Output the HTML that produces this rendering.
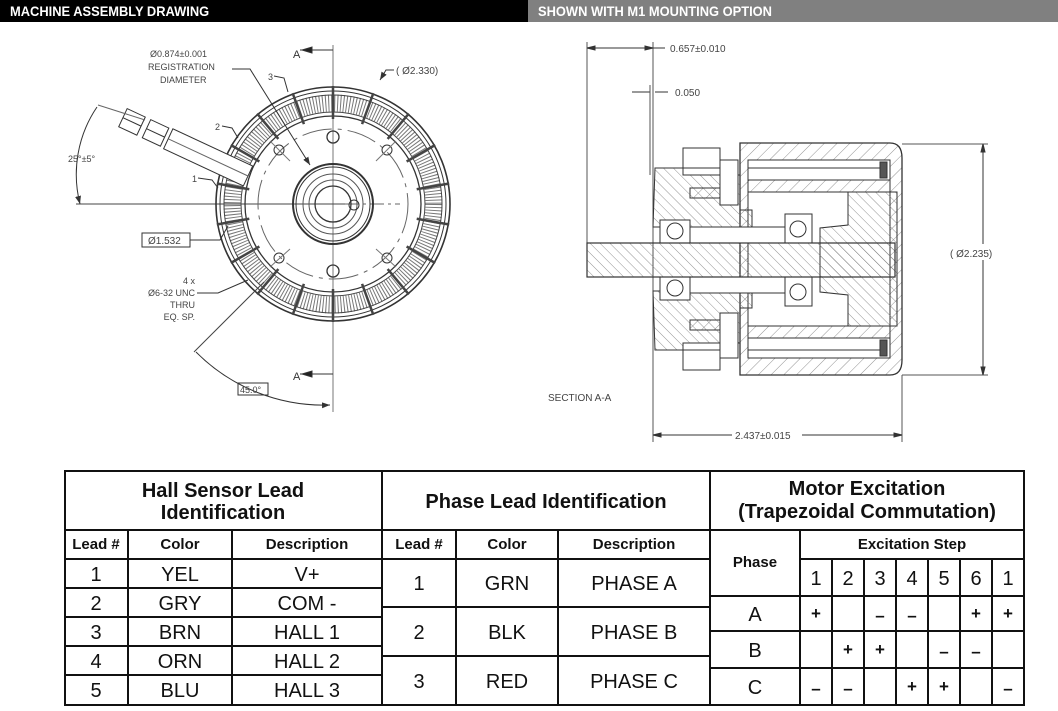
<!DOCTYPE html>
<html><head><meta charset="utf-8"><style>
body{margin:0;width:1058px;height:711px;background:#fff;overflow:hidden;position:relative;font-family:"Liberation Sans",Arial,sans-serif}
.bar{position:absolute;top:0;height:22px;color:#fff;font-weight:bold;font-size:14px;line-height:23px;padding-left:10px;box-sizing:border-box}
svg{position:absolute;left:0;top:0}
</style></head><body>
<div class="bar" style="left:0;width:528px;background:#000"><span style="display:inline-block;transform:scaleX(0.92);transform-origin:left">MACHINE ASSEMBLY DRAWING</span></div>
<div class="bar" style="left:528px;width:530px;background:#808080"><span style="display:inline-block;transform:scaleX(0.92);transform-origin:left">SHOWN WITH M1 MOUNTING OPTION</span></div>

<svg width="1058" height="711" viewBox="0 0 1058 711">
<defs>
<pattern id="h" width="9" height="9" patternUnits="userSpaceOnUse" patternTransform="rotate(45)"><line x1="0" y1="0" x2="0" y2="9" stroke="#777" stroke-width="0.8"/></pattern>
<pattern id="h2" width="7" height="7" patternUnits="userSpaceOnUse" patternTransform="rotate(-45)"><line x1="0" y1="0" x2="0" y2="7" stroke="#777" stroke-width="0.8"/></pattern>
<marker id="ar" markerWidth="8" markerHeight="6" refX="8" refY="3" orient="auto"><path d="M0,0 L8,3 L0,6z" fill="#333"/></marker>
</defs>
<g fill="none" stroke="#333" stroke-width="1" font-family="Liberation Sans, sans-serif">
<!-- LEFT VIEW -->
<line x1="333" y1="45" x2="333" y2="412" stroke="#555" stroke-width="0.8"/>
<line x1="76" y1="204" x2="345" y2="204" stroke="#444"/>
<line x1="345" y1="204" x2="400" y2="204" stroke="#666" stroke-dasharray="14 4 3 4"/>
<circle cx="333" cy="204" r="117" stroke-width="1.6"/>
<circle cx="333" cy="204" r="113"/>
<circle cx="333" cy="204" r="101" stroke="#777" stroke-width="17" stroke-dasharray="1 2"/>
<circle cx="333" cy="204" r="109" stroke="#444"/>
<circle cx="333" cy="204" r="92" stroke="#444"/>
<circle cx="333" cy="204" r="88" stroke-width="1.3"/>
<g stroke="#444" stroke-width="2.5">
<line x1="333" y1="86" x2="333" y2="119" transform="rotate(0 333 204)"/>
<line x1="333" y1="86" x2="333" y2="119" transform="rotate(20 333 204)"/>
<line x1="333" y1="86" x2="333" y2="119" transform="rotate(40 333 204)"/>
<line x1="333" y1="86" x2="333" y2="119" transform="rotate(60 333 204)"/>
<line x1="333" y1="86" x2="333" y2="119" transform="rotate(80 333 204)"/>
<line x1="333" y1="86" x2="333" y2="119" transform="rotate(100 333 204)"/>
<line x1="333" y1="86" x2="333" y2="119" transform="rotate(120 333 204)"/>
<line x1="333" y1="86" x2="333" y2="119" transform="rotate(140 333 204)"/>
<line x1="333" y1="86" x2="333" y2="119" transform="rotate(160 333 204)"/>
<line x1="333" y1="86" x2="333" y2="119" transform="rotate(180 333 204)"/>
<line x1="333" y1="86" x2="333" y2="119" transform="rotate(200 333 204)"/>
<line x1="333" y1="86" x2="333" y2="119" transform="rotate(220 333 204)"/>
<line x1="333" y1="86" x2="333" y2="119" transform="rotate(240 333 204)"/>
<line x1="333" y1="86" x2="333" y2="119" transform="rotate(260 333 204)"/>
<line x1="333" y1="86" x2="333" y2="119" transform="rotate(280 333 204)"/>
<line x1="333" y1="86" x2="333" y2="119" transform="rotate(300 333 204)"/>
<line x1="333" y1="86" x2="333" y2="119" transform="rotate(320 333 204)"/>
<line x1="333" y1="86" x2="333" y2="119" transform="rotate(340 333 204)"/>
</g>
<circle cx="333" cy="204" r="75" stroke="#666" stroke-dasharray="30 6 4 6"/>
<circle cx="333" cy="204" r="40" stroke-width="2"/>
<circle cx="333" cy="204" r="37"/>
<circle cx="333" cy="204" r="30" stroke="#555"/>
<circle cx="333" cy="204" r="24" stroke="#555"/>
<circle cx="333" cy="204" r="18" stroke-width="1.3"/>
<circle cx="354" cy="205" r="5"/>
<circle cx="333" cy="137" r="6" stroke-width="1.3"/>
<circle cx="333" cy="271" r="6" stroke-width="1.3"/>
<circle cx="279" cy="150" r="5"/><circle cx="387" cy="150" r="5"/>
<circle cx="279" cy="258" r="5"/><circle cx="387" cy="258" r="5"/>
<line x1="270" y1="141" x2="290" y2="161" stroke="#777"/><line x1="396" y1="141" x2="376" y2="161" stroke="#777"/>
<line x1="270" y1="267" x2="290" y2="249" stroke="#777"/><line x1="396" y1="267" x2="376" y2="249" stroke="#777"/>
<g transform="translate(248,176) rotate(205)" fill="#fff">
<rect x="0" y="-11" width="88" height="22"/>
<line x1="0" y1="0" x2="88" y2="0" stroke="#666"/>
<rect x="92" y="-10" width="20" height="20"/><line x1="92" y1="0" x2="112" y2="0"/>
<rect x="118" y="-10" width="20" height="20"/><line x1="118" y1="0" x2="138" y2="0"/>
</g>
<line x1="98" y1="105" x2="145" y2="120" stroke="#666"/>
<path d="M97,107 A120,120 0 0 0 80,204" marker-end="url(#ar)"/>
<text x="68" y="162" font-size="9" fill="#444" stroke="none">25°±5°</text>
<text x="150" y="57" font-size="9" fill="#444" stroke="none">Ø0.874±0.001</text>
<text x="148" y="70" font-size="9" fill="#444" stroke="none">REGISTRATION</text>
<text x="160" y="83" font-size="9" fill="#444" stroke="none">DIAMETER</text>
<path d="M232,69 L250,69 L310,165" marker-end="url(#ar)"/>
<text x="268" y="80" font-size="9" fill="#444" stroke="none">3</text><path d="M274,76 L284,78 L288,92"/>
<text x="215" y="130" font-size="9" fill="#444" stroke="none">2</text><path d="M222,126 L232,128 L238,138"/>
<text x="192" y="182" font-size="9" fill="#444" stroke="none">1</text><path d="M198,178 L212,180 L218,188"/>
<text x="396" y="74" font-size="10" fill="#444" stroke="none">( Ø2.330)</text><path d="M394,70 L386,70 L380,80" marker-end="url(#ar)"/>
<rect x="142" y="233" width="48" height="14"/><text x="148" y="244" font-size="10" fill="#444" stroke="none">Ø1.532</text>
<path d="M190,240 L220,240 L228,226"/>
<text x="195" y="284" font-size="9" fill="#444" stroke="none" text-anchor="end">4 x</text>
<text x="195" y="296" font-size="9" fill="#444" stroke="none" text-anchor="end">Ø6-32 UNC</text>
<text x="195" y="308" font-size="9" fill="#444" stroke="none" text-anchor="end">THRU</text>
<text x="195" y="320" font-size="9" fill="#444" stroke="none" text-anchor="end">EQ. SP.</text>
<path d="M197,293 L218,293 L248,280"/>
<line x1="194" y1="352" x2="264" y2="282" stroke="#444"/>
<path d="M196,352 A180,180 0 0 0 330,405" marker-end="url(#ar)"/>
<rect x="238" y="383" width="30" height="12"/><text x="240" y="393" font-size="9" fill="#444" stroke="none">45.0°</text>
<text x="293" y="58" font-size="11" fill="#333" stroke="none">A</text>
<line x1="300" y1="50" x2="333" y2="50"/><path d="M302,47 L312,50 L302,53z" fill="#222" transform="rotate(180 307 50)"/>
<text x="293" y="380" font-size="11" fill="#333" stroke="none">A</text>
<line x1="300" y1="374" x2="333" y2="374"/><path d="M302,371 L312,374 L302,377z" fill="#222" transform="rotate(180 307 374)"/>

<!-- RIGHT SECTION -->
<line x1="587" y1="42" x2="587" y2="245" stroke="#555"/>
<line x1="653" y1="42" x2="653" y2="442" stroke="#555"/>
<line x1="587" y1="48" x2="653" y2="48"/><path d="M587,48 l8,-2 v4z M653,48 l-8,-2 v4z" fill="#333"/>
<line x1="653" y1="48" x2="665" y2="48"/>
<text x="670" y="52" font-size="10" fill="#444" stroke="none">0.657±0.010</text>
<line x1="632" y1="92" x2="650" y2="92"/><line x1="655" y1="92" x2="668" y2="92"/>
<line x1="650" y1="85" x2="650" y2="175" stroke="#555"/>
<text x="675" y="96" font-size="10" fill="#444" stroke="none">0.050</text>
<path d="M740,143 L890,143 Q902,143 902,158 L902,360 Q902,375 890,375 L740,375 Z" fill="url(#h)" stroke-width="1.3"/>
<path d="M748,160 L890,160 L890,358 L748,358 Z" fill="#fff"/>
<rect x="748" y="180" width="142" height="12" fill="url(#h)"/>
<rect x="748" y="326" width="142" height="12" fill="url(#h)"/>
<line x1="748" y1="168" x2="885" y2="168"/><line x1="748" y1="350" x2="885" y2="350"/>
<rect x="880" y="162" width="7" height="16" fill="#555"/><rect x="880" y="340" width="7" height="16" fill="#555"/>
<path d="M848,192 L897,192 L897,326 L848,326 L848,295 L820,292 L820,228 L848,225 Z" fill="url(#h2)"/>
<path d="M655,168 L683,168 L683,175 L740,175 L740,210 L752,210 L752,227 L653,227 Z" fill="url(#h2)"/>
<path d="M655,350 L683,350 L683,343 L740,343 L740,308 L752,308 L752,291 L653,291 Z" fill="url(#h2)"/>
<rect x="690" y="188" width="45" height="10" fill="url(#h)"/><rect x="690" y="320" width="45" height="10" fill="url(#h)"/>
<path d="M683,148 L720,148 L720,168 L683,168 Z" fill="#fff"/><path d="M683,350 L720,350 L720,370 L683,370 Z" fill="#fff"/>
<rect x="720" y="160" width="18" height="45" fill="#fff"/><rect x="720" y="313" width="18" height="45" fill="#fff"/>
<rect x="660" y="220" width="30" height="23" fill="#fff"/><circle cx="675" cy="231" r="8"/>
<rect x="660" y="277" width="30" height="23" fill="#fff"/><circle cx="675" cy="288" r="8"/>
<rect x="785" y="214" width="27" height="29" fill="#fff"/><circle cx="798" cy="229" r="8"/>
<rect x="785" y="277" width="27" height="29" fill="#fff"/><circle cx="798" cy="292" r="8"/>
<rect x="690" y="227" width="95" height="16" fill="#fff"/><rect x="690" y="277" width="95" height="16" fill="#fff"/>
<rect x="587" y="243" width="308" height="34" fill="url(#h2)" stroke-width="1.2"/>
<line x1="902" y1="144" x2="988" y2="144" stroke="#555"/><line x1="902" y1="375" x2="988" y2="375" stroke="#555"/>
<line x1="983" y1="144" x2="983" y2="375"/><path d="M983,144 l-2,8 h4z M983,375 l-2,-8 h4z" fill="#333"/>
<rect x="948" y="244" width="50" height="16" fill="#fff" stroke="none"/>
<text x="950" y="257" font-size="10" fill="#444" stroke="none">( Ø2.235)</text>
<line x1="902" y1="375" x2="902" y2="442" stroke="#555"/>
<line x1="653" y1="435" x2="902" y2="435"/><path d="M653,435 l8,-2 v4z M902,435 l-8,-2 v4z" fill="#333"/>
<rect x="732" y="428" width="70" height="14" fill="#fff" stroke="none"/>
<text x="735" y="439" font-size="10" fill="#444" stroke="none">2.437±0.015</text>
<text x="548" y="401" font-size="10" fill="#444" stroke="none">SECTION A-A</text>
</g>

<!-- TABLE -->
<g stroke="#111" stroke-width="2" fill="none">
<rect x="65" y="471" width="959" height="234"/>
<line x1="382" y1="471" x2="382" y2="705"/><line x1="710" y1="471" x2="710" y2="705"/>
<line x1="65" y1="530" x2="1024" y2="530"/>
<line x1="65" y1="559" x2="710" y2="559"/><line x1="800" y1="559" x2="1024" y2="559"/>
<line x1="128" y1="530" x2="128" y2="705"/><line x1="232" y1="530" x2="232" y2="705"/>
<line x1="456" y1="530" x2="456" y2="705"/><line x1="558" y1="530" x2="558" y2="705"/>
<line x1="65" y1="588" x2="382" y2="588"/><line x1="65" y1="617" x2="382" y2="617"/>
<line x1="65" y1="646" x2="382" y2="646"/><line x1="65" y1="675" x2="382" y2="675"/>
<line x1="382" y1="607" x2="710" y2="607"/><line x1="382" y1="656" x2="710" y2="656"/>
<line x1="800" y1="530" x2="800" y2="705"/>
<line x1="710" y1="596" x2="1024" y2="596"/><line x1="710" y1="631" x2="1024" y2="631"/><line x1="710" y1="668" x2="1024" y2="668"/>
<line x1="832" y1="559" x2="832" y2="705"/><line x1="864" y1="559" x2="864" y2="705"/><line x1="896" y1="559" x2="896" y2="705"/>
<line x1="928" y1="559" x2="928" y2="705"/><line x1="960" y1="559" x2="960" y2="705"/><line x1="992" y1="559" x2="992" y2="705"/>
</g>
<g font-family="Liberation Sans, Arial, sans-serif" fill="#111" text-anchor="middle">
<g font-weight="bold" font-size="20">
<text x="223" y="497">Hall Sensor Lead</text><text x="223" y="519">Identification</text>
<text x="546" y="508">Phase Lead Identification</text>
<text x="867" y="495">Motor Excitation</text><text x="867" y="518">(Trapezoidal Commutation)</text>
</g>
<g font-weight="bold" font-size="15">
<text x="96" y="549">Lead #</text><text x="180" y="549">Color</text><text x="307" y="549">Description</text>
<text x="419" y="549">Lead #</text><text x="507" y="549">Color</text><text x="634" y="549">Description</text>
<text x="755" y="567">Phase</text><text x="912" y="549">Excitation Step</text>
</g>
<g font-size="20">
<text x="96" y="581">1</text><text x="180" y="581">YEL</text><text x="307" y="581">V+</text>
<text x="96" y="610">2</text><text x="180" y="610">GRY</text><text x="307" y="610">COM -</text>
<text x="96" y="639">3</text><text x="180" y="639">BRN</text><text x="307" y="639">HALL 1</text>
<text x="96" y="668">4</text><text x="180" y="668">ORN</text><text x="307" y="668">HALL 2</text>
<text x="96" y="697">5</text><text x="180" y="697">BLU</text><text x="307" y="697">HALL 3</text>
<text x="419" y="590">1</text><text x="507" y="590">GRN</text><text x="634" y="590">PHASE A</text>
<text x="419" y="639">2</text><text x="507" y="639">BLK</text><text x="634" y="639">PHASE B</text>
<text x="419" y="688">3</text><text x="507" y="688">RED</text><text x="634" y="688">PHASE C</text>
<text x="816" y="585">1</text><text x="848" y="585">2</text><text x="880" y="585">3</text><text x="912" y="585">4</text><text x="944" y="585">5</text><text x="976" y="585">6</text><text x="1008" y="585">1</text>
<text x="755" y="621">A</text><text x="755" y="657">B</text><text x="755" y="694">C</text>
</g>
<g font-size="17" font-weight="bold">
<text x="816" y="619">+</text><text x="880" y="621">–</text><text x="912" y="621">–</text><text x="976" y="619">+</text><text x="1008" y="619">+</text>
<text x="848" y="655">+</text><text x="880" y="655">+</text><text x="944" y="657">–</text><text x="976" y="657">–</text>
<text x="816" y="694">–</text><text x="848" y="694">–</text><text x="912" y="692">+</text><text x="944" y="692">+</text><text x="1008" y="694">–</text>
</g>
</g>
</svg>
</body></html>
